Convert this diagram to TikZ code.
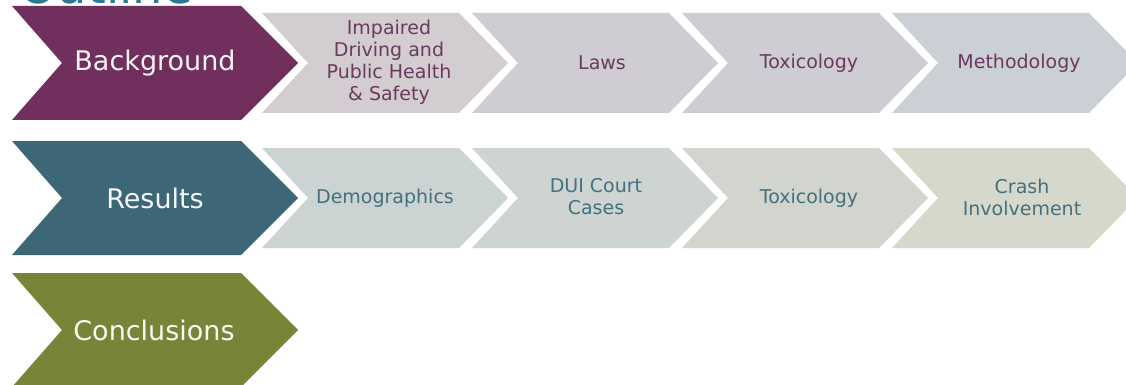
\documentclass[tikz,border=0pt]{standalone}
\usepackage{fontspec}
\setmainfont{DejaVu Sans}
\definecolor{bgC}{HTML}{702F5C}
\definecolor{resC}{HTML}{3D6676}
\definecolor{conC}{HTML}{7A8438}
\definecolor{titleC}{HTML}{2D7896}
\definecolor{gA}{HTML}{D3CCD1}
\definecolor{gB}{HTML}{D0CCD3}
\definecolor{gC}{HTML}{CDCDD3}
\definecolor{gD}{HTML}{CBCFD6}
\definecolor{hA}{HTML}{CCD3D3}
\definecolor{hB}{HTML}{CED4D1}
\definecolor{hC}{HTML}{D1D5CE}
\definecolor{hD}{HTML}{D5D8CA}
\definecolor{txtP}{HTML}{6B3A5E}
\definecolor{txtT}{HTML}{44707F}
\newcommand\bigchev[2]{\fill[#1] (12,#2-57) -- (241,#2-57) -- (298,#2) -- (241,#2+57) -- (12,#2+57) -- (62,#2) -- cycle;}
\newcommand\smallchev[3]{\fill[#1] (#2,#3-50) -- ++(197,0) -- ++(49,50) -- ++(-49,50) -- ++(-197,0) -- ++(46,-50) -- cycle;}
\begin{document}
\begin{tikzpicture}[x=1pt,y=-1pt,
  bigtxt/.style={inner sep=0pt,font=\fontsize{27}{30}\selectfont},
  smalltxt/.style={inner sep=0pt,align=center,font=\fontsize{19}{22}\selectfont}]
\useasboundingbox (0,0) rectangle (1126,385);
\fill[white] (0,0) rectangle (1126,385);
% title (cut off by the top edge, as in the reference)
\node[anchor=base west,inner sep=0pt,text=titleC,font=\fontsize{48}{52}\selectfont] (title) at (19,3.5) {Outline};
% row 1
\bigchev{bgC}{63}
\smallchev{gA}{262}{63}
\smallchev{gB}{472}{63}
\smallchev{gC}{682}{63}
\smallchev{gD}{892}{63}
\node[bigtxt,text=white!94!bgC] (bg) at (155,63) {Background};
\node[smalltxt,text=txtP] (imp) at (389,62) {Impaired\\Driving and\\Public Health\\\& Safety};
\node[smalltxt,text=txtP] (laws) at (602,63) {Laws};
\node[smalltxt,text=txtP] (tox1) at (809,63) {Toxicology};
\node[smalltxt,text=txtP] (meth) at (1019,63) {Methodology};
% row 2
\bigchev{resC}{198}
\smallchev{hA}{262}{198}
\smallchev{hB}{472}{198}
\smallchev{hC}{682}{198}
\smallchev{hD}{892}{198}
\node[bigtxt,text=white!94!resC] (res) at (155,198) {Results};
\node[smalltxt,text=txtT] (demo) at (385,198) {Demographics};
\node[smalltxt,text=txtT] (dui) at (596,197) {DUI Court\\Cases};
\node[smalltxt,text=txtT] (tox2) at (809,198) {Toxicology};
\node[smalltxt,text=txtT] (crash) at (1022,197) {Crash\\Involvement};
% row 3
\bigchev{conC}{330}
\node[bigtxt,text=white!94!conC] (con) at (154,330) {Conclusions};
\end{tikzpicture}
\end{document}
